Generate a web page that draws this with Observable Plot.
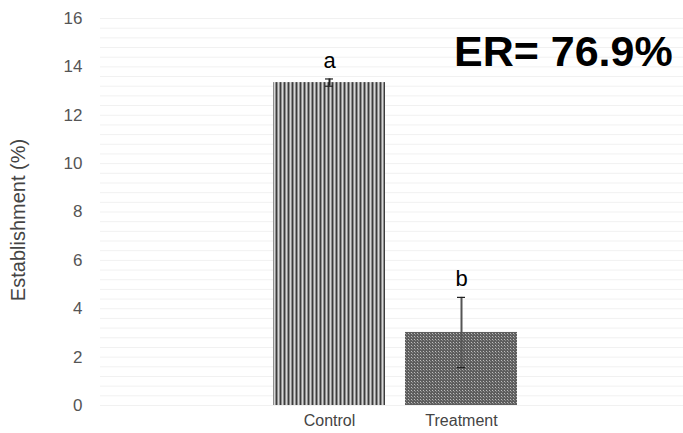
<!DOCTYPE html>
<html>
<head>
<meta charset="utf-8">
<script src="https://cdn.jsdelivr.net/npm/d3@7"></script>
<script src="https://cdn.jsdelivr.net/npm/@observablehq/plot@0.6"></script>
<style>
  html, body { margin: 0; padding: 0; background: #fff; }
  #chart { position: relative; width: 683px; height: 433px; }
  .er { position: absolute; left: 454px; top: 30px; font: bold 43px "Liberation Sans", Arial, sans-serif; color: #000; line-height: 1; }
</style>
</head>
<body>
<div id="chart"><div class="er">ER= 76.9%</div></div>
<script>
const groups = ["Control", "Treatment"];
const means = [13.35, 3.02];
const errors = [0.15, 1.45];
const letters = ["a", "b"];
const patterns = ["url(#stripes)", "url(#checks)"];
const errColors = ["#222", "#555"];
const yTicks = [0, 2, 4, 6, 8, 10, 12, 14, 16];
const gridStep = 0.4;

const data = groups.map((g, i) => ({
  group: g, mean: means[i], lo: means[i] - errors[i], hi: means[i] + errors[i],
  letter: letters[i], pattern: patterns[i], ec: errColors[i]
}));

const plot = Plot.plot({
  width: 683,
  height: 433,
  marginLeft: 100,
  marginRight: 0,
  marginTop: 18,
  marginBottom: 28,
  style: { fontFamily: "'Liberation Sans', Arial, sans-serif", background: "#fff" },
  x: { domain: groups, range: [272, 518], paddingInner: 0.15, paddingOuter: 0, label: null },
  y: { domain: [0, 16], label: null },
  marks: [
    Plot.gridY(d3.range(0, 16.001, gridStep), { stroke: "#f1f1f1", strokeOpacity: 1, strokeWidth: 1 }),
    Plot.barY(data.filter((d, i) => i === 0), { x: "group", y: "mean", fill: patterns[0] }),
    Plot.barY(data.filter((d, i) => i === 1), { x: "group", y: "mean", fill: patterns[1] }),
    Plot.ruleX(data, { x: "group", y1: "lo", y2: "hi", stroke: "ec", strokeWidth: 2 }),
    Plot.tickY(data, { x: "group", y: "lo", stroke: "#222", strokeWidth: 1.2, insetLeft: 52, insetRight: 52 }),
    Plot.tickY(data, { x: "group", y: "hi", stroke: "#222", strokeWidth: 1.2, insetLeft: 52, insetRight: 52 }),
    Plot.text(data, { x: "group", y: "hi", text: "letter", dy: -18, fontSize: 22, fill: "#000" }),
    Plot.axisY({ ticks: yTicks, tickSize: 0, tickPadding: 18, fontSize: 17, color: "#555",
      label: "Establishment (%)", labelAnchor: "center", labelArrow: "none", labelOffset: 90 }),
    Plot.axisX({ tickSize: 0, tickPadding: 9, fontSize: 16, color: "#444", label: null })
  ]
});

const svg = d3.select(plot);
const defs = svg.insert("defs", ":first-child");
const s = defs.append("pattern").attr("id", "stripes").attr("patternUnits", "userSpaceOnUse")
  .attr("width", 4).attr("height", 4);
s.append("rect").attr("width", 4).attr("height", 4).attr("fill", "#8f8f8f");
s.append("rect").attr("x", 0).attr("width", 1).attr("height", 4).attr("fill", "#3c3c3c");
s.append("rect").attr("x", 2).attr("width", 1).attr("height", 4).attr("fill", "#d6d6d6");
const c = defs.append("pattern").attr("id", "checks").attr("patternUnits", "userSpaceOnUse")
  .attr("width", 3).attr("height", 3);
c.append("rect").attr("width", 3).attr("height", 3).attr("fill", "#5e5e5e");
c.append("rect").attr("x", 0).attr("y", 0).attr("width", 1).attr("height", 1).attr("fill", "#bdbdbd");
c.append("rect").attr("x", 1).attr("y", 1).attr("width", 1).attr("height", 1).attr("fill", "#8a8a8a");

// style y-axis label
svg.selectAll("text").filter(function() { return this.textContent.startsWith("Establishment"); })
  .attr("font-size", 20).attr("fill", "#444").attr("x", -8);

document.getElementById("chart").insertBefore(plot, document.getElementById("chart").firstChild);
plot.style.position = "absolute";
plot.style.left = "0";
plot.style.top = "0";
</script>
</body>
</html>
